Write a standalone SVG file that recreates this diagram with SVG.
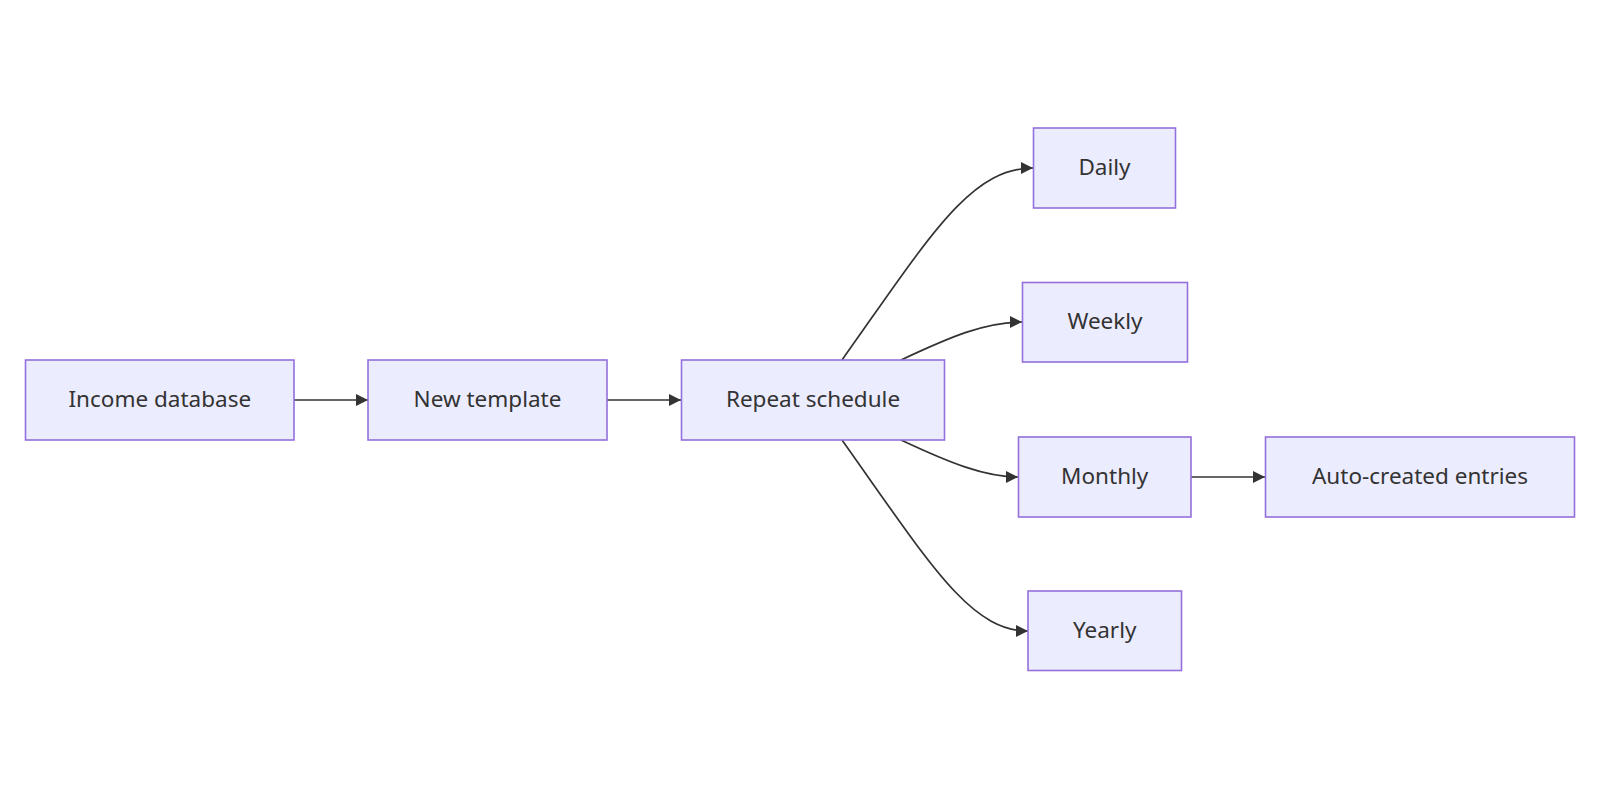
<svg xmlns="http://www.w3.org/2000/svg" width="1600" height="800" viewBox="0 0 1600 800">
<style>
.node rect{fill:#ECECFF;stroke:#9370DB;stroke-width:1.6}
.node text{font-family:"Noto Sans","Liberation Sans",sans-serif;font-size:22.5px;fill:#333;text-anchor:middle;dominant-baseline:central}
.edge{fill:none;stroke:#333;stroke-width:1.7}
</style>
<defs>
<marker id="arr" viewBox="0 0 12 12" refX="12" refY="6" markerWidth="12" markerHeight="12" markerUnits="userSpaceOnUse" orient="auto">
<path d="M0,0 L12,6 L0,12 z" fill="#333"/>
</marker>
</defs>
<rect width="1600" height="800" fill="#fff"/>
<g id="connectors">
<path class="edge" d="M294,400 L368,400" marker-end="url(#arr)"/>
<path class="edge" d="M607,400 L681,400" marker-end="url(#arr)"/>
<path class="edge" d="M842,360 C930,236 970,168 1033,168" marker-end="url(#arr)"/>
<path class="edge" d="M901,360 C950,337 985,322 1022,322" marker-end="url(#arr)"/>
<path class="edge" d="M901,440 C950,463 985,477 1018,477" marker-end="url(#arr)"/>
<path class="edge" d="M842,440 C930,564 970,631 1028,631" marker-end="url(#arr)"/>
<path class="edge" d="M1191,477 L1265,477" marker-end="url(#arr)"/>
</g>
<g id="income" class="node"><rect x="25.5" y="360" width="268.5" height="80"/><text x="159.8" y="398.5">Income database</text></g>
<g id="template" class="node"><rect x="368" y="360" width="239" height="80"/><text x="487.5" y="398.5">New template</text></g>
<g id="repeat" class="node"><rect x="681.5" y="360" width="263" height="80"/><text x="813" y="398.5">Repeat schedule</text></g>
<g id="daily" class="node"><rect x="1033.5" y="128" width="142" height="80"/><text x="1104.5" y="166.5">Daily</text></g>
<g id="weekly" class="node"><rect x="1022.5" y="282.5" width="165" height="79.5"/><text x="1105" y="320.5">Weekly</text></g>
<g id="monthly" class="node"><rect x="1018.5" y="437" width="172.5" height="80"/><text x="1104.7" y="475.5">Monthly</text></g>
<g id="auto" class="node"><rect x="1265.5" y="437" width="309" height="80"/><text x="1420" y="475.5">Auto-created entries</text></g>
<g id="yearly" class="node"><rect x="1028" y="591" width="153.5" height="79.5"/><text x="1104.7" y="629.5">Yearly</text></g>
</svg>
